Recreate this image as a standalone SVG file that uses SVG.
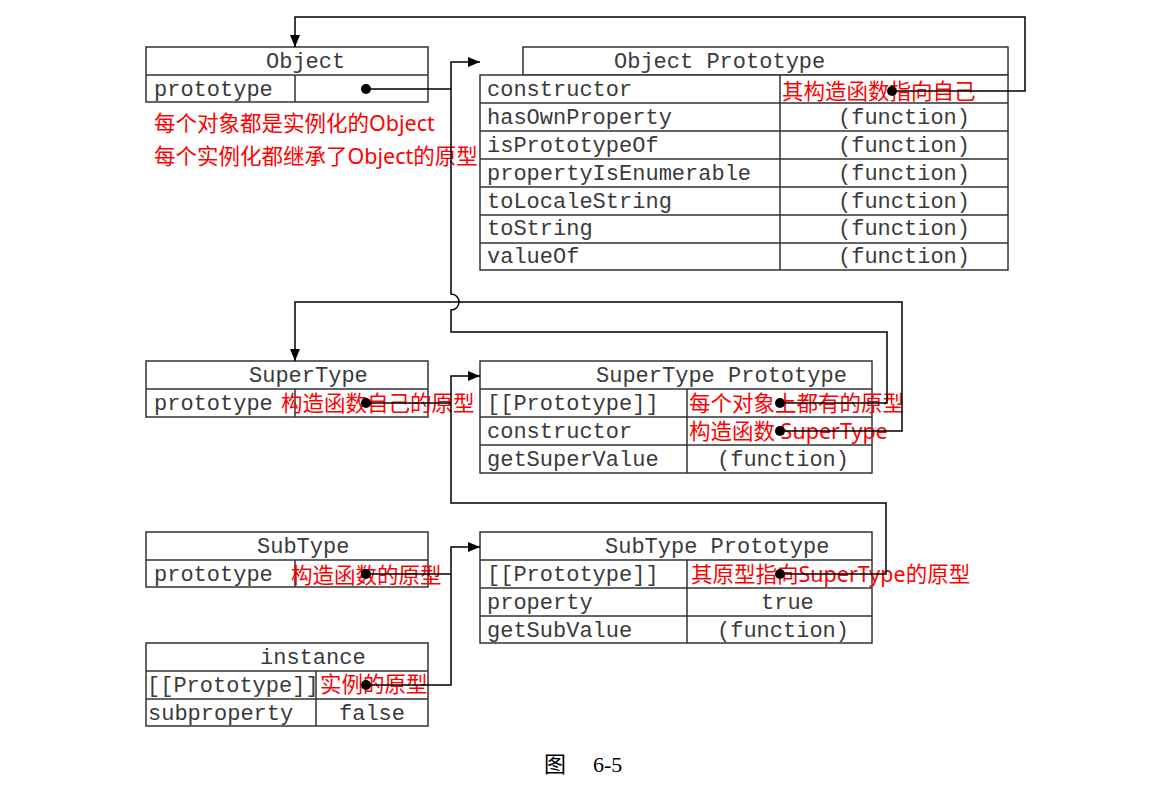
<svg xmlns="http://www.w3.org/2000/svg" width="1171" height="806" viewBox="0 0 1171 806">
<defs>
<marker id="arr" viewBox="0 0 12 10" refX="12" refY="5" markerWidth="12" markerHeight="10" markerUnits="userSpaceOnUse" orient="auto">
<path d="M0,0 L12,5 L0,10 z" fill="#000"/>
</marker>
<style>
.box{fill:#fff;stroke:#333;stroke-width:1.5}
.ln{fill:none;stroke:#333;stroke-width:1.5}
.m{font-family:"Liberation Mono",monospace;font-size:22px;fill:#3a3a3a}
.r{font-family:"Noto Sans","Noto Sans CJK SC",sans-serif;font-size:21.5px;fill:#f00}
.c{fill:none;stroke:#000;stroke-width:1.5}
.ca{fill:none;stroke:#000;stroke-width:1.5;marker-end:url(#arr)}
.dot{fill:#000}
.cap{font-family:"Liberation Serif","Noto Sans CJK SC",serif;font-size:22px;fill:#000}
</style>
</defs>
<rect width="1171" height="806" fill="#fff"/>

<g id="object">
<rect class="box" x="146" y="47" width="282" height="55"/>
<path class="ln" d="M146,75 H428 M295,75 V102"/>
<text class="m" x="266" y="68">Object</text>
<text class="m" x="154" y="96">prototype</text>
<text class="r" x="154" y="131">每个对象都是实例化的Object</text>
<text class="r" x="154" y="164">每个实例化都继承了Object的原型</text>
</g>

<g id="object-prototype">
<rect class="box" x="523" y="47" width="485" height="28"/>
<rect class="box" x="480" y="75" width="528" height="195"/>
<path class="ln" d="M480,103 H1008 M480,131 H1008 M480,159 H1008 M480,187 H1008 M480,215 H1008 M480,243 H1008 M780,75 V270"/>
<text class="m" x="614" y="68">Object Prototype</text>
<text class="m" x="487" y="96">constructor</text>
<text class="m" x="487" y="124">hasOwnProperty</text>
<text class="m" x="487" y="152">isPrototypeOf</text>
<text class="m" x="487" y="180">propertyIsEnumerable</text>
<text class="m" x="487" y="208">toLocaleString</text>
<text class="m" x="487" y="235">toString</text>
<text class="m" x="487" y="263">valueOf</text>
<text class="m" x="838" y="124">(function)</text>
<text class="m" x="838" y="152">(function)</text>
<text class="m" x="838" y="180">(function)</text>
<text class="m" x="838" y="208">(function)</text>
<text class="m" x="838" y="235">(function)</text>
<text class="m" x="838" y="263">(function)</text>
<text class="r" x="782" y="99">其构造函数指向自己</text>
</g>

<g id="supertype">
<rect class="box" x="146" y="361" width="282" height="56"/>
<path class="ln" d="M146,389 H428 M295,389 V417"/>
<text class="m" x="249" y="382">SuperType</text>
<text class="m" x="154" y="410">prototype</text>
<text class="r" x="281" y="411">构造函数自己的原型</text>
</g>

<g id="supertype-prototype">
<rect class="box" x="480" y="361" width="392" height="112"/>
<path class="ln" d="M480,389 H872 M480,417 H872 M480,445 H872 M687,389 V473"/>
<text class="m" x="596" y="382">SuperType Prototype</text>
<text class="m" x="487" y="410">[[Prototype]]</text>
<text class="m" x="487" y="438">constructor</text>
<text class="m" x="487" y="466">getSuperValue</text>
<text class="m" x="717" y="466">(function)</text>
<text class="r" x="689" y="411">每个对象上都有的原型</text>
<text class="r" x="689" y="439">构造函数 SuperType</text>
</g>

<g id="subtype">
<rect class="box" x="146" y="532" width="282" height="55"/>
<path class="ln" d="M146,560 H428 M295,560 V587"/>
<text class="m" x="257" y="553">SubType</text>
<text class="m" x="154" y="581">prototype</text>
<text class="r" x="291" y="583">构造函数的原型</text>
</g>

<g id="subtype-prototype">
<rect class="box" x="480" y="532" width="392" height="111"/>
<path class="ln" d="M480,560 H872 M480,588 H872 M480,616 H872 M687,560 V643"/>
<text class="m" x="605" y="553">SubType Prototype</text>
<text class="m" x="487" y="581">[[Prototype]]</text>
<text class="m" x="487" y="609">property</text>
<text class="m" x="487" y="637">getSubValue</text>
<text class="m" x="761" y="609">true</text>
<text class="m" x="717" y="637">(function)</text>
<text class="r" x="691" y="582">其原型指向SuperType的原型</text>
</g>

<g id="instance">
<rect class="box" x="146" y="643" width="282" height="83"/>
<path class="ln" d="M146,671 H428 M146,699 H428 M316,671 V726"/>
<text class="m" x="260" y="664">instance</text>
<text class="m" x="147" y="692">[[Prototype]]</text>
<text class="m" x="148" y="720">subproperty</text>
<text class="m" x="339" y="720">false</text>
<text class="r" x="320" y="692">实例的原型</text>
</g>

<g id="connectors">
<path class="ca" d="M892,91 H1025 V17 H295 V47"/>
<path class="c" d="M366,89 H451"/>
<path class="ca" d="M780,403 H887 V332 H451 V310 A8,8 0 0 0 451,294 V62 H480"/>
<path class="ca" d="M780,431 H902 V302 H295 V361"/>
<path class="c" d="M366,403 H451"/>
<path class="ca" d="M780,574 H886 V503 H451 V376 H480"/>
<path class="c" d="M366,574 H451"/>
<path class="ca" d="M366,685 H451 V547 H480"/>
<circle class="dot" cx="366" cy="89" r="5"/>
<circle class="dot" cx="892" cy="91" r="5"/>
<circle class="dot" cx="366" cy="403" r="5"/>
<circle class="dot" cx="780" cy="403" r="5"/>
<circle class="dot" cx="780" cy="431" r="5"/>
<circle class="dot" cx="366" cy="574" r="5"/>
<circle class="dot" cx="780" cy="574" r="5"/>
<circle class="dot" cx="366" cy="685" r="5"/>
</g>

<text class="cap" x="544" y="772">图<tspan x="593">6-5</tspan></text>
</svg>
